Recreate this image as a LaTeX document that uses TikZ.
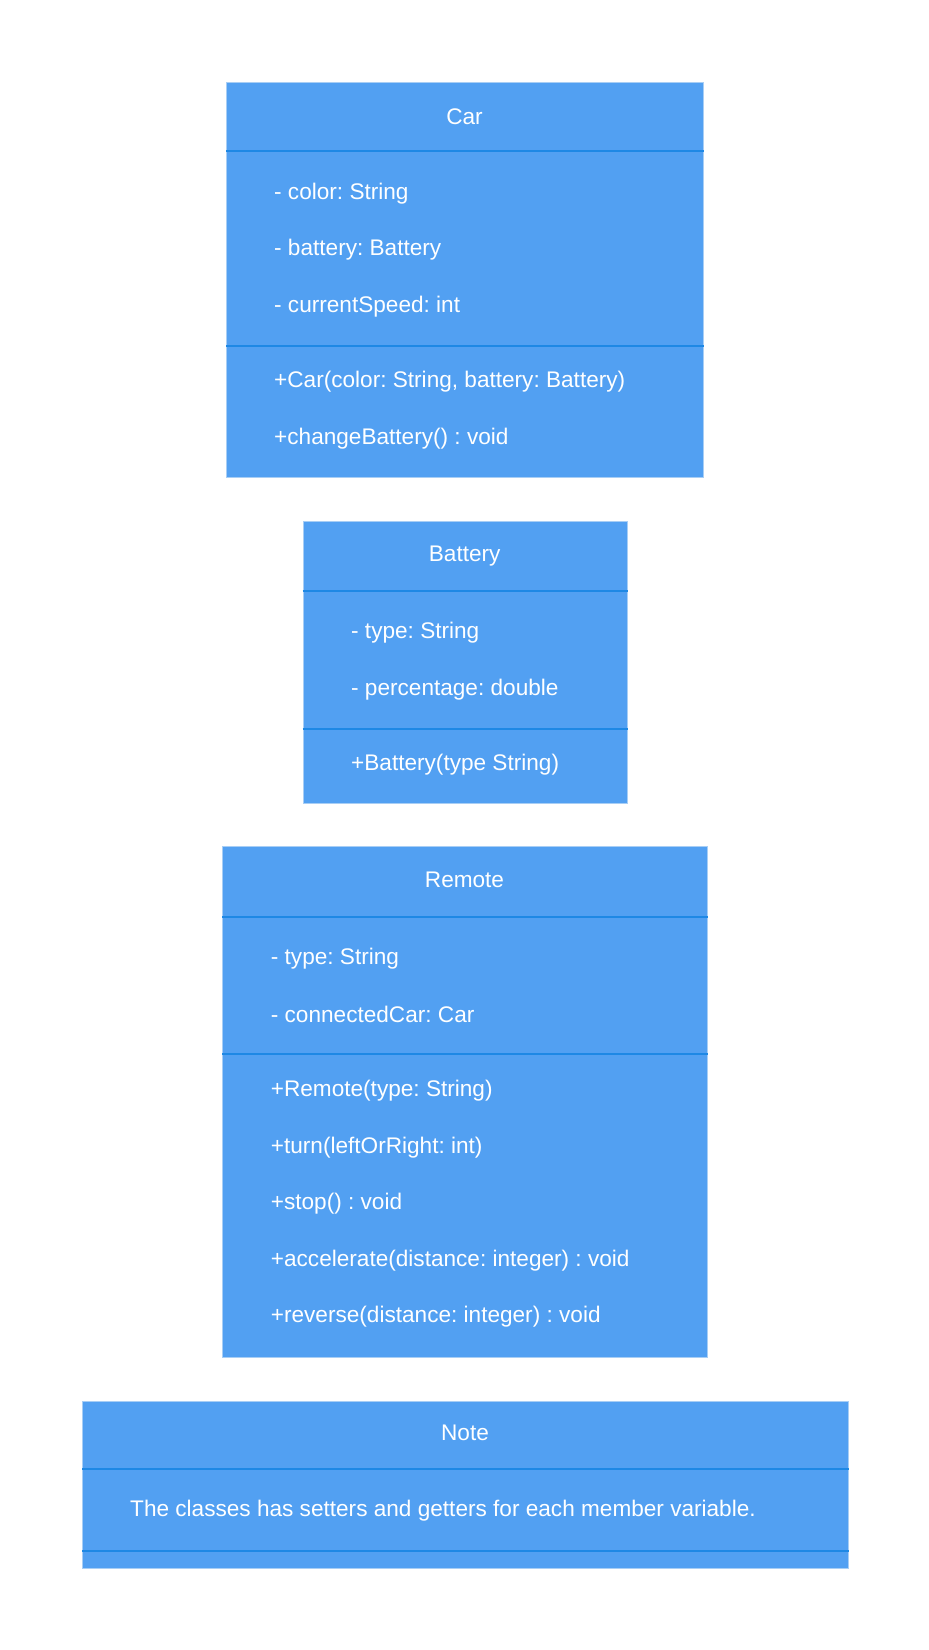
\documentclass[tikz,border=0pt]{standalone}
\usepackage{fontspec}
\setmainfont{Liberation Sans}
\usetikzlibrary{positioning}

\definecolor{classfill}{HTML}{52A0F2}
\definecolor{classline}{HTML}{1E88E5}
\definecolor{classedge}{HTML}{A8CEF5}

\frenchspacing

\begin{document}
\begin{tikzpicture}[
    x=1pt, y=-1pt,
    classbox/.style={rectangle, draw=classedge, fill=classfill, line width=1pt, anchor=north west, inner sep=0pt},
    classtitle/.style={text=white, font=\fontsize{22.6}{27}\selectfont},
    member/.style={text=white, anchor=west, inner sep=0pt, yshift=-2.5pt, font=\fontsize{22.6}{27}\selectfont},
    divider/.style={classline, line width=2pt}
]
    \useasboundingbox (0,0) rectangle (929,1650);

    % Car
    \node[classbox, minimum width=477pt, minimum height=395pt] (car) at (226,81.7) {};
    \node[classtitle] (cartitle) at (464.5,116.7) {Car};
    \node[member] (carcolor) at (274,191) {- color: String};
    \node[member] (carbattery) at (274,247.5) {- battery: Battery};
    \node[member] (carspeed) at (274,304.5) {- currentSpeed: int};
    \node[member] (carnew) at (274,379.5) {+Car(color: String, battery: Battery)};
    \node[member] (carchange) at (274,436.5) {+changeBattery() : void};
    \draw[divider] ([yshift=-69.3pt]car.north west) -- ([yshift=-69.3pt]car.north east);
    \draw[divider] ([yshift=-264.3pt]car.north west) -- ([yshift=-264.3pt]car.north east);

    % Battery
    \node[classbox, minimum width=324pt, minimum height=282pt] (battery) at (302.7,521) {};
    \node[classtitle] (batterytitle) at (464.7,556.5) {Battery};
    \node[member] (batterytype) at (351,630) {- type: String};
    \node[member] (batteryperc) at (351,686.7) {- percentage: double};
    \node[member] (batterynew) at (351,761.7) {+Battery(type String)};
    \draw[divider] ([yshift=-69.7pt]battery.north west) -- ([yshift=-69.7pt]battery.north east);
    \draw[divider] ([yshift=-208pt]battery.north west) -- ([yshift=-208pt]battery.north east);

    % Remote
    \node[classbox, minimum width=485pt, minimum height=510.7pt] (remote) at (222,846) {};
    \node[classtitle] (remotetitle) at (464.5,880) {Remote};
    \node[member] (remotetype) at (270.7,955.7) {- type: String};
    \node[member] (remotecar) at (270.7,1011.5) {- connectedCar: Car};
    \node[member] (remotenew) at (270.7,1088.3) {+Remote(type: String)};
    \node[member] (remoteturn) at (270.7,1145.5) {+turn(leftOrRight: int)};
    \node[member] (remotestop) at (270.7,1201.5) {+stop() : void};
    \node[member] (remoteacc) at (270.7,1258) {+accelerate(distance: integer) : void};
    \node[member] (remoterev) at (270.7,1314.5) {+reverse(distance: integer) : void};
    \draw[divider] ([yshift=-70.7pt]remote.north west) -- ([yshift=-70.7pt]remote.north east);
    \draw[divider] ([yshift=-208.3pt]remote.north west) -- ([yshift=-208.3pt]remote.north east);

    % Note
    \node[classbox, minimum width=766pt, minimum height=167.6pt] (note) at (82,1400.7) {};
    \node[classtitle] (notetitle) at (465,1433) {Note};
    \node[member] (notetext) at (130,1508) {The classes has setters and getters for each member variable.};
    \draw[divider] ([yshift=-68.6pt]note.north west) -- ([yshift=-68.6pt]note.north east);
    \draw[divider] ([yshift=-150pt]note.north west) -- ([yshift=-150pt]note.north east);

\end{tikzpicture}
\end{document}
